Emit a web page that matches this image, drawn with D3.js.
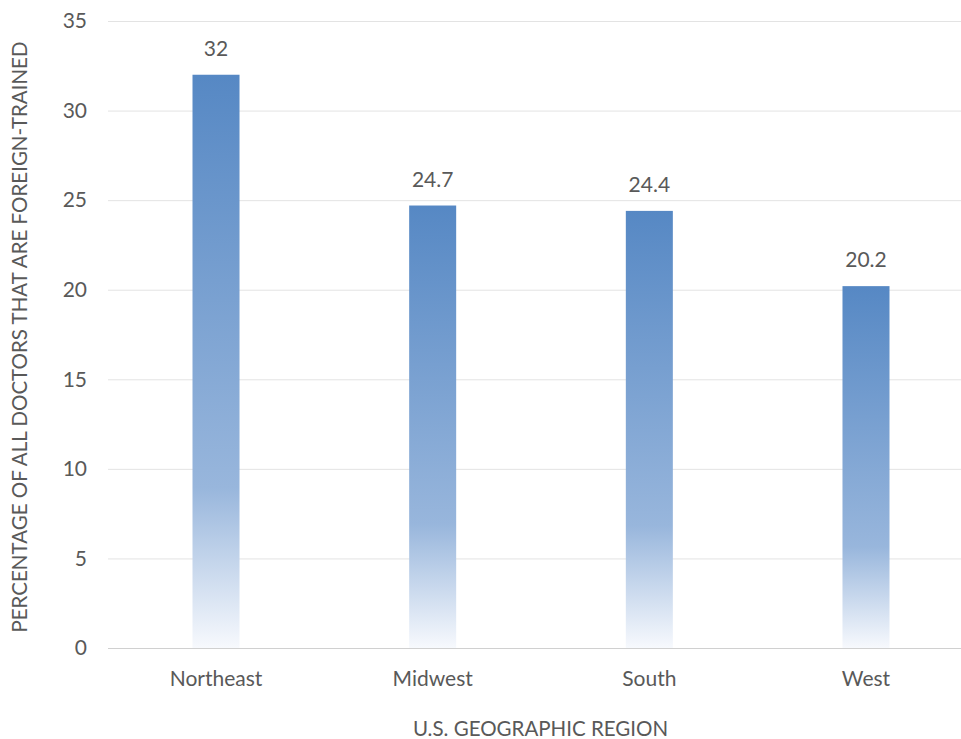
<!DOCTYPE html>
<html>
<head>
<meta charset="utf-8">
<script src="https://cdn.jsdelivr.net/npm/d3@7"></script>
<style>
  html, body { margin: 0; padding: 0; background: #fff; }
  svg { display: block; }
  text { font-family: Lato, "Open Sans", sans-serif; fill: #595959; }
</style>
</head>
<body>
<svg id="chart" width="961" height="739"></svg>
<script>
// Share of doctors trained abroad, by U.S. region
const regions = ["Northeast", "Midwest", "South", "West"];
const percentages = [32, 24.7, 24.4, 20.2];
const yTicks = [0, 5, 10, 15, 20, 25, 30, 35];

const svg = d3.select("#chart");
const margin = { top: 21, left: 108, bottom: 91, right: 0 };
const width = 961, height = 739;
const plotRight = 974;

const x = d3.scaleBand()
  .domain(regions)
  .range([margin.left, plotRight])
  .paddingInner(0.783)
  .paddingOuter(0.39);

const y = d3.scaleLinear()
  .domain([0, 35])
  .range([height - margin.bottom, margin.top]);

// Vertical fade for each bar: solid blue on top, fading out toward the baseline
const defs = svg.append("defs");
const grad = defs.append("linearGradient")
  .attr("id", "barFade")
  .attr("x1", 0).attr("y1", 0).attr("x2", 0).attr("y2", 1);
grad.append("stop").attr("offset", "0%").attr("stop-color", "#5688c4");
grad.append("stop").attr("offset", "72%").attr("stop-color", "#98b6dc");
grad.append("stop").attr("offset", "100%").attr("stop-color", "#f7f9fd");

// Horizontal gridlines with value ticks
const yAxis = d3.axisLeft(y).tickValues(yTicks).tickSize(0).tickPadding(21);
const gy = svg.append("g")
  .attr("transform", `translate(${margin.left},0)`)
  .call(yAxis);
gy.select(".domain").remove();
gy.selectAll(".tick text")
  .style("font-size", "21px")
  .attr("fill", "#595959");
gy.selectAll(".tick line")
  .attr("x2", plotRight - margin.left)
  .attr("stroke", d => d === 0 ? "#d0d0d0" : "#e3e3e3")
  .attr("stroke-width", 1);

// Bars
svg.append("g").selectAll("rect")
  .data(regions)
  .join("rect")
  .attr("x", d => x(d))
  .attr("width", x.bandwidth())
  .attr("y", (d, i) => y(percentages[i]))
  .attr("height", (d, i) => y(0) - y(percentages[i]))
  .attr("fill", "url(#barFade)");

// Redraw the baseline above the bars
svg.append("line")
  .attr("x1", margin.left).attr("x2", plotRight)
  .attr("y1", y(0) + 0.5).attr("y2", y(0) + 0.5)
  .attr("stroke", "#d0d0d0");

// Value labels
svg.append("g").selectAll("text")
  .data(regions)
  .join("text")
  .attr("x", d => x(d) + x.bandwidth() / 2)
  .attr("y", (d, i) => y(percentages[i]) - 19)
  .attr("text-anchor", "middle")
  .style("font-size", "21px")
  .text((d, i) => percentages[i]);

// Category axis labels
const xAxis = d3.axisBottom(x).tickSize(0).tickPadding(23);
const gx = svg.append("g")
  .attr("transform", `translate(0,${y(0)})`)
  .call(xAxis);
gx.select(".domain").remove();
gx.selectAll(".tick text")
  .style("font-size", "21px")
  .attr("fill", "#595959");

// Axis titles
svg.append("text")
  .attr("x", (margin.left + 961) / 2 + 6)
  .attr("y", 736)
  .attr("text-anchor", "middle")
  .style("font-size", "20.5px")
  .text("U.S. GEOGRAPHIC REGION");

svg.append("text")
  .attr("transform", `translate(27,${337}) rotate(-90)`)
  .attr("text-anchor", "middle")
  .style("font-size", "20.5px")
  .text("PERCENTAGE OF ALL DOCTORS THAT ARE FOREIGN-TRAINED");
</script>
</body>
</html>
